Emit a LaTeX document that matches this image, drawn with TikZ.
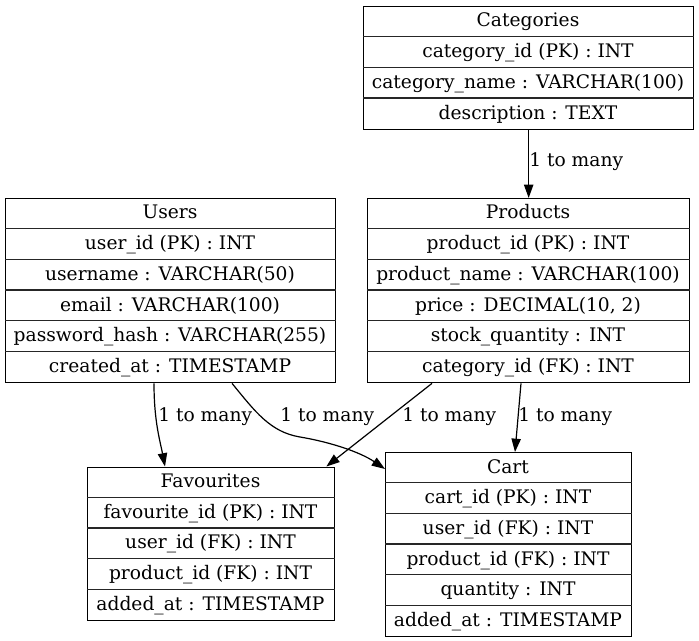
\documentclass[tikz,border=0pt]{standalone}
\usepackage{fontspec}
\setmainfont{DejaVu Serif}
\usetikzlibrary{arrows.meta,calc}
\tikzset{
  tbl/.style={draw=black, line width=1pt, inner sep=0pt, anchor=north west},
  cell/.style={anchor=base, inner sep=0pt, font=\fontsize{14pt}{17pt}\selectfont},
  rowsep/.style={draw=black!85, line width=1pt},
  rel/.style={line width=0.9pt, -{Triangle[length=10pt,width=7pt]}},
  lbl/.style={anchor=base west, inner sep=0pt, font=\fontsize{14pt}{17pt}\selectfont}
}
\newcommand\ertable[6]{%
  \pgfmathsetmacro\erw{(#3-#2)*0.75}%
  \pgfmathsetmacro\erh{#5*30.67*0.75}%
  \node[tbl, minimum width=\erw pt, minimum height=\erh pt] (#1) at (#2,#4) {};
  \foreach \t [count=\i from 0] in {#6} {
    \node[cell] (#1-\i) at ({(#2+#3)/2},{#4+\i*30.67+21}) {\t};
    \ifnum\i>0 \draw[rowsep] ($(#1.north west)+(0,\i*30.67)$) -- ($(#1.north east)+(0,\i*30.67)$);\fi
  }
}
\begin{document}
\begin{tikzpicture}[x=0.75pt, y=-0.75pt]
\useasboundingbox (0,0) rectangle (699,641);

\ertable{cat}{363}{693}{6}{4}{Categories, category\_id (PK) : INT, category\_name : VARCHAR(100), description : TEXT}
\ertable{users}{5}{335}{198}{6}{Users, user\_id (PK) : INT, username : VARCHAR(50), email : VARCHAR(100), password\_hash : VARCHAR(255), created\_at : TIMESTAMP}
\ertable{prod}{367}{689}{198}{6}{Products, product\_id (PK) : INT, product\_name : VARCHAR(100), {price : DECIMAL(10, 2)}, stock\_quantity : INT, category\_id (FK) : INT}
\ertable{fav}{87}{334}{466.5}{5}{Favourites, favourite\_id (PK) : INT, user\_id (FK) : INT, product\_id (FK) : INT, added\_at : TIMESTAMP}
\ertable{cart}{385}{631}{452}{6}{Cart, cart\_id (PK) : INT, user\_id (FK) : INT, product\_id (FK) : INT, quantity : INT, added\_at : TIMESTAMP}

% connectors
\draw[rel] (cat) -- (prod);
\draw[rel] ($(users.south west)+(149,0)$) .. controls +(0,38) and +(-5,-26) .. ($(fav.north west)+(78,0)$);
\coordinate (bmid) at (300,437);
\draw[rel] ($(users.south west)+(227,0)$) .. controls +(23,28) and +(-30,-5) .. (bmid)
  .. controls +(30,5) and +(-25,-17) .. ($(cart.north west)+(0,17)$);
\draw[rel] ($(prod.south west)+(65,0)$) -- ($(fav.north east)+(-9,0)$);
\draw[rel] ($(prod.south west)+(154,0)$) -- ($(cart.north west)+(130,0)$);

% labels
\node[lbl] (l1) at (529,167) {1 to many};
\node[lbl] (l2) at (158,421) {1 to many};
\node[lbl] (l3) at (280,421) {1 to many};
\node[lbl] (l4) at (402,421) {1 to many};
\node[lbl] (l5) at (518,421) {1 to many};
\end{tikzpicture}
\end{document}
